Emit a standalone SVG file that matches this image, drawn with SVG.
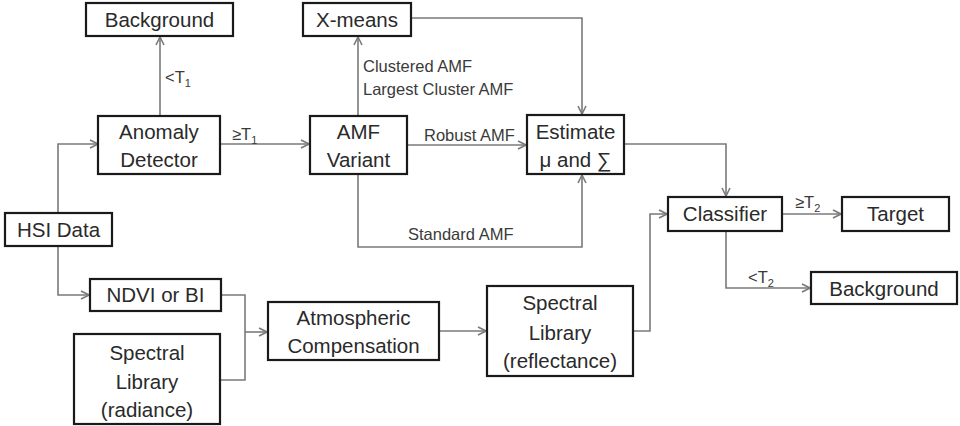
<svg xmlns="http://www.w3.org/2000/svg" width="960" height="426" viewBox="0 0 960 426">
  <defs>
    <marker id="arrow" viewBox="0 0 10 10" refX="9" refY="5" markerWidth="10" markerHeight="10" markerUnits="userSpaceOnUse" orient="auto">
      <path d="M1,1 L9,5 L1,9" fill="none" stroke="#7a7a7a" stroke-width="1.6"/>
    </marker>
  </defs>
  <style>
    .box { fill: #fff; stroke: #1a1a1a; stroke-width: 2.2; }
    .t { font-family: "Liberation Sans", Arial, sans-serif; font-size: 20.5px; fill: #2a2a2a; text-anchor: middle; }
    .lbl { font-family: "Liberation Sans", Arial, sans-serif; font-size: 16.5px; fill: #3a3a3a; }
    .sub { font-size: 11px; }
    .c { fill: none; stroke: #7a7a7a; stroke-width: 1.6; }
    .ca { fill: none; stroke: #7a7a7a; stroke-width: 1.6; marker-end: url(#arrow); }
  </style>
  <rect width="960" height="426" fill="#fff"/>

  <!-- connectors -->
  <g id="connectors">
    <!-- HSI Data to Anomaly Detector -->
    <polyline class="ca" points="58,213 58,144 98,144"/>
    <!-- Anomaly Detector to Background (below threshold) -->
    <polyline class="ca" points="160,116 160,37"/>
    <!-- Anomaly Detector to AMF Variant -->
    <polyline class="ca" points="220,144 309,144"/>
    <!-- AMF Variant to X-means -->
    <polyline class="ca" points="358,116 358,37"/>
    <!-- X-means to Estimate -->
    <polyline class="ca" points="411,18 582,18 582,114"/>
    <!-- Robust AMF -->
    <polyline class="ca" points="407,145 526,145"/>
    <!-- Standard AMF -->
    <polyline class="ca" points="358,174 358,247 582,247 582,175"/>
    <!-- Estimate to Classifier -->
    <polyline class="ca" points="624,144 726,144 726,196"/>
    <!-- Classifier to Target -->
    <polyline class="ca" points="782,214 841,214"/>
    <!-- Classifier to Background -->
    <polyline class="ca" points="726,231 726,288 810,288"/>
    <!-- HSI Data to NDVI -->
    <polyline class="ca" points="58,246 58,295 89,295"/>
    <!-- NDVI / radiance library merge to Atmospheric Compensation -->
    <polyline class="c" points="221,295 245,295 245,380 220,380"/>
    <polyline class="ca" points="245,332 267,332"/>
    <!-- Atmospheric Compensation to reflectance library -->
    <polyline class="ca" points="439,331 486,331"/>
    <!-- reflectance library to Classifier -->
    <polyline class="ca" points="633,331 650,331 650,214 667,214"/>

    <!-- connector labels -->
    <text class="lbl" x="165" y="83">&lt;T<tspan class="sub" dy="4">1</tspan></text>
    <text class="lbl" x="232" y="140">≥T<tspan class="sub" dy="4">1</tspan></text>
    <text class="lbl" x="363" y="72">Clustered AMF</text>
    <text class="lbl" x="363" y="95">Largest Cluster AMF</text>
    <text class="lbl" x="424" y="141">Robust AMF</text>
    <text class="lbl" x="408" y="240">Standard AMF</text>
    <text class="lbl" x="795" y="208">≥T<tspan class="sub" dy="4">2</tspan></text>
    <text class="lbl" x="748" y="283">&lt;T<tspan class="sub" dy="4">2</tspan></text>
  </g>

  <g id="background-top">
    <rect class="box" x="86" y="3" width="147" height="33"/>
    <text class="t" x="159.5" y="27">Background</text>
  </g>
  <g id="x-means">
    <rect class="box" x="303" y="3" width="108" height="33"/>
    <text class="t" x="357" y="27">X-means</text>
  </g>
  <g id="anomaly-detector">
    <rect class="box" x="98" y="116" width="122" height="58"/>
    <text class="t" x="159" y="139">Anomaly</text>
    <text class="t" x="159" y="167">Detector</text>
  </g>
  <g id="amf-variant">
    <rect class="box" x="310" y="116" width="97" height="58"/>
    <text class="t" x="358.5" y="139">AMF</text>
    <text class="t" x="358.5" y="167">Variant</text>
  </g>
  <g id="estimate">
    <rect class="box" x="527" y="115" width="97" height="59"/>
    <text class="t" x="575.5" y="139">Estimate</text>
    <text class="t" x="575.5" y="167">μ and ∑</text>
  </g>
  <g id="hsi-data">
    <rect class="box" x="5" y="213" width="107" height="33"/>
    <text class="t" x="58.5" y="237">HSI Data</text>
  </g>
  <g id="classifier">
    <rect class="box" x="668" y="197" width="114" height="34"/>
    <text class="t" x="725" y="221">Classifier</text>
  </g>
  <g id="target">
    <rect class="box" x="842" y="197" width="107" height="34"/>
    <text class="t" x="895.5" y="221">Target</text>
  </g>
  <g id="background-bottom">
    <rect class="box" x="811" y="272" width="146" height="32"/>
    <text class="t" x="884" y="296">Background</text>
  </g>
  <g id="ndvi-bi">
    <rect class="box" x="90" y="279" width="131" height="32"/>
    <text class="t" x="155.5" y="302">NDVI or BI</text>
  </g>
  <g id="spectral-library-radiance">
    <rect class="box" x="74" y="334" width="146" height="90"/>
    <text class="t" x="147" y="360">Spectral</text>
    <text class="t" x="147" y="389">Library</text>
    <text class="t" x="147" y="417">(radiance)</text>
  </g>
  <g id="atmospheric-compensation">
    <rect class="box" x="268" y="302" width="171" height="58"/>
    <text class="t" x="353.5" y="325">Atmospheric</text>
    <text class="t" x="353.5" y="353">Compensation</text>
  </g>
  <g id="spectral-library-reflectance">
    <rect class="box" x="487" y="286" width="146" height="90"/>
    <text class="t" x="560" y="310">Spectral</text>
    <text class="t" x="560" y="340">Library</text>
    <text class="t" x="560" y="368">(reflectance)</text>
  </g>
</svg>
